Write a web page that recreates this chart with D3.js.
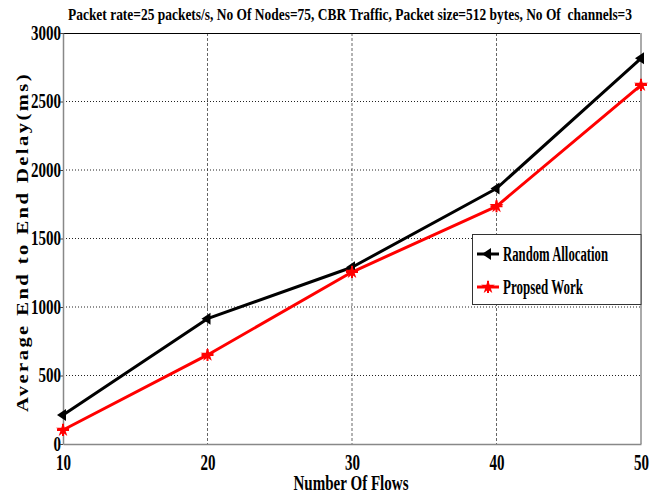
<!DOCTYPE html>
<html><head><meta charset="utf-8">
<script src="https://cdn.jsdelivr.net/npm/d3@7"></script>
<style>
html,body{margin:0;padding:0;background:#fff;}
svg{display:block;}
text{font-family:"Liberation Serif","Times New Roman",serif;font-weight:bold;fill:#000;}
</style></head>
<body>
<script>
const flows = [10, 20, 30, 40, 50];
const randomAllocation = [212, 915, 1290, 1865, 2815];
const proposedWork = [102, 650, 1255, 1735, 2620];
const xTicks = [10, 20, 30, 40, 50];
const yTicks = [0, 500, 1000, 1500, 2000, 2500, 3000];
const seriesNames = ["Random Allocation", "Propsed Work"];
const seriesColors = ["#000000", "#ff0000"];
const titleText = "Packet rate=25 packets/s, No Of Nodes=75, CBR Traffic, Packet size=512 bytes, No Of  channels=3";

const W = 662, H = 496;
const L = 63, R = 641, T = 33, B = 444;
const svg = d3.select("body").append("svg").attr("width", W).attr("height", H);

const x = d3.scaleLinear().domain([10, 50]).range([L, R]);
const y = d3.scaleLinear().domain([0, 3000]).range([B, T]);

// grid
const grid = svg.append("g");
grid.selectAll("line.v").data(xTicks.slice(1, -1)).join("line")
  .attr("x1", d => x(d)).attr("x2", d => x(d)).attr("y1", T).attr("y2", B)
  .attr("stroke", "#666").attr("stroke-width", 1).attr("stroke-dasharray", "3,2");
grid.selectAll("line.h").data(yTicks.slice(1, -1)).join("line")
  .attr("x1", L).attr("x2", R).attr("y1", d => y(d)).attr("y2", d => y(d))
  .attr("stroke", "#222").attr("stroke-width", 1).attr("stroke-dasharray", "1,2");

// frame
svg.append("line").attr("x1", L).attr("x2", R).attr("y1", T + 0.5).attr("y2", T + 0.5).attr("stroke", "#000").attr("stroke-width", 1.2);
svg.append("line").attr("x1", R).attr("x2", R).attr("y1", T).attr("y2", B).attr("stroke", "#aaa").attr("stroke-width", 2);

// axes
const xAxis = d3.axisBottom(x).tickValues(xTicks).tickSize(0).tickPadding(0).tickFormat(d3.format("d"));
const gx = svg.append("g").attr("transform", `translate(0,${B})`).call(xAxis);
gx.select(".domain").attr("stroke", "#888").attr("stroke-width", 1.5);
gx.selectAll("text").attr("y", 26).attr("dy", null).style("font-size", "23px")
  .attr("textLength", 15).attr("lengthAdjust", "spacingAndGlyphs");

const yAxis = d3.axisLeft(y).tickValues(yTicks).tickSize(0).tickPadding(2).tickFormat(d3.format("d"));
const gy = svg.append("g").attr("transform", `translate(${L},0)`).call(yAxis);
gy.select(".domain").attr("stroke", "#888").attr("stroke-width", 1.5);
gy.selectAll("text").style("font-size", "20px").attr("dy", "0.32em")
  .attr("textLength", d => String(d).length * 7.5).attr("lengthAdjust", "spacingAndGlyphs");
gy.selectAll(".tick").append("line").attr("x1", -3).attr("x2", 0).attr("stroke", "#444");

// lines
const series = [randomAllocation, proposedWork];
const lineGen = d3.line().x((d, i) => x(flows[i])).y(d => y(d));
series.forEach((s, k) => {
  svg.append("path").datum(s).attr("d", lineGen)
    .attr("fill", "none").attr("stroke", seriesColors[k]).attr("stroke-width", 3).attr("stroke-linejoin", "round");
});

function triLeft(g, cx, cy, c) {
  g.append("path").attr("d", `M${cx - 6},${cy} L${cx + 3},${cy - 6} L${cx + 3},${cy + 6} Z`).attr("fill", c);
}
function star(g, cx, cy, c) {
  g.append("path").attr("d", d3.symbol(d3.symbolStar, 60)()).attr("transform", `translate(${cx},${cy})`).attr("fill", c);
  g.append("path").attr("d", `M${cx},${cy - 6}V${cy + 6}M${cx - 6},${cy}H${cx + 6}`).attr("stroke", c).attr("stroke-width", 2);
}
const mk = svg.append("g");
randomAllocation.forEach((v, i) => triLeft(mk, x(flows[i]), y(v), seriesColors[0]));
proposedWork.forEach((v, i) => star(mk, x(flows[i]), y(v), seriesColors[1]));

// title
svg.append("text").attr("x", (68 + 632) / 2).attr("y", 20).attr("text-anchor", "middle")
  .style("font-size", "16.5px").style("white-space", "pre")
  .attr("textLength", 564).attr("lengthAdjust", "spacingAndGlyphs").text(titleText);

// x label
svg.append("text").attr("x", 351).attr("y", 490).attr("text-anchor", "middle")
  .style("font-size", "22px").attr("textLength", 115).attr("lengthAdjust", "spacingAndGlyphs").text("Number Of Flows");

// y label
svg.append("text").attr("transform", "translate(28,242) rotate(-90)").attr("text-anchor", "middle")
  .style("font-size", "17px").style("letter-spacing", "2px")
  .attr("textLength", 340).attr("lengthAdjust", "spacingAndGlyphs").text("Average End to End Delay(ms)");

// legend
const lg = svg.append("g");
lg.append("rect").attr("x", 472.5).attr("y", 234.5).attr("width", R - 472.5).attr("height", 70)
  .attr("fill", "#fff").attr("stroke", "#333").attr("stroke-width", 1);
const legY = [254, 287];
seriesNames.forEach((n, k) => {
  lg.append("line").attr("x1", 477).attr("x2", 499).attr("y1", legY[k]).attr("y2", legY[k])
    .attr("stroke", seriesColors[k]).attr("stroke-width", 3);
  if (k === 0) triLeft(lg, 488, legY[k], seriesColors[k]); else star(lg, 488, legY[k], seriesColors[k]);
  lg.append("text").attr("x", 503).attr("y", legY[k] + 7).style("font-size", "20px")
    .attr("textLength", k === 0 ? 105 : 80).attr("lengthAdjust", "spacingAndGlyphs").text(n);
});
</script>
</body></html>
